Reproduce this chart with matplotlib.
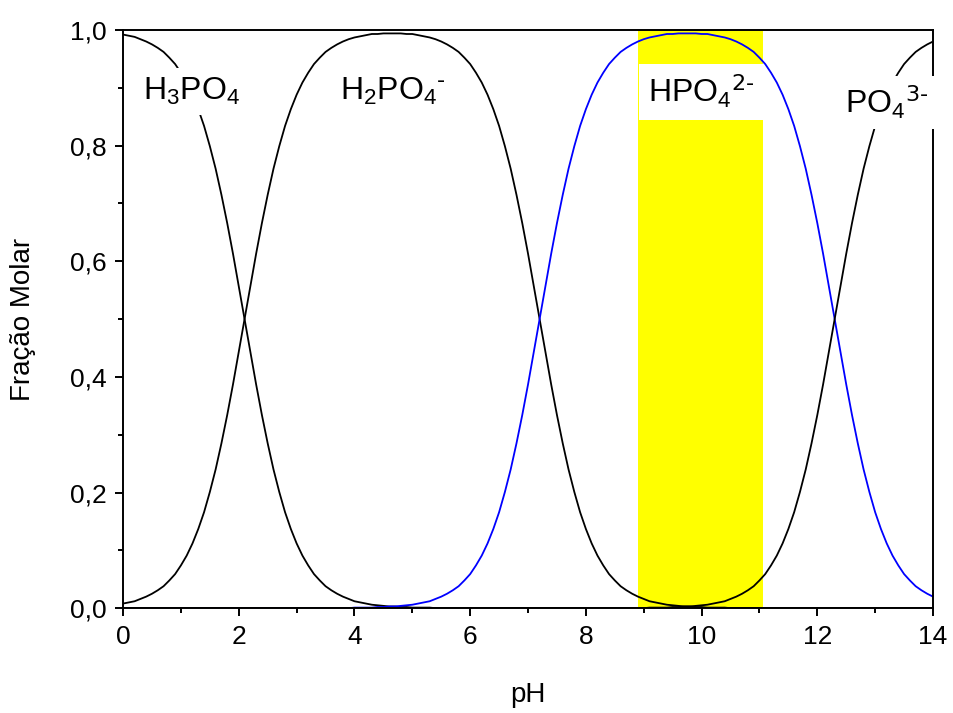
import numpy as np
import matplotlib
matplotlib.use("Agg")
import matplotlib.pyplot as plt

plt.rcParams['font.family'] = ['Liberation Sans', 'DejaVu Sans']
plt.rcParams['mathtext.default'] = 'regular'

# pH sampling grid (step 0.1, 141 points)
ph = np.round(np.arange(0, 14.05, 0.1), 1)
N = len(ph)

# Molar fraction of each phosphate species along the grid
h3po4 = [0.992, 0.990, 0.988, 0.984, 0.980, 0.975, 0.969, 0.962, 0.952, 0.941,
         0.926, 0.909, 0.888, 0.863, 0.834, 0.799, 0.760, 0.715, 0.666, 0.613,
         0.557, 0.500, 0.443, 0.387, 0.334, 0.285, 0.240, 0.201, 0.166, 0.137,
         0.112, 0.091, 0.074, 0.059, 0.048, 0.038, 0.031, 0.025, 0.020, 0.016,
         0.012, 0.010, 0.008, 0.006, 0.005, 0.004, 0.003, 0.003, 0.002, 0.002,
         0.001, 0.001, 0.001, 0.001]
h2po4 = [0.008, 0.010, 0.012, 0.016, 0.020, 0.025, 0.031, 0.038, 0.048, 0.059,
         0.074, 0.091, 0.112, 0.137, 0.166, 0.201, 0.240, 0.285, 0.334, 0.387,
         0.443, 0.500, 0.557, 0.613, 0.666, 0.715, 0.760, 0.799, 0.834, 0.863,
         0.888, 0.909, 0.926, 0.941, 0.952, 0.962, 0.969, 0.975, 0.980, 0.984,
         0.987, 0.989, 0.991, 0.993, 0.993, 0.994, 0.994, 0.994, 0.994, 0.993,
         0.993, 0.991, 0.989, 0.987, 0.984, 0.980, 0.975, 0.969, 0.962, 0.952,
         0.941, 0.926, 0.909, 0.888, 0.863, 0.834, 0.799, 0.760, 0.715, 0.666,
         0.613, 0.557, 0.500, 0.443, 0.387, 0.334, 0.285, 0.240, 0.201, 0.166,
         0.137, 0.112, 0.091, 0.074, 0.059, 0.048, 0.038, 0.031, 0.025, 0.020,
         0.016, 0.012, 0.010, 0.008, 0.006, 0.005, 0.004, 0.003, 0.003, 0.002,
         0.002, 0.001, 0.001, 0.001, 0.001]
hpo4 = [0.001, 0.001, 0.001, 0.001, 0.002, 0.002, 0.003, 0.003, 0.004, 0.005,
        0.006, 0.008, 0.010, 0.012, 0.016, 0.020, 0.025, 0.031, 0.038, 0.048,
        0.059, 0.074, 0.091, 0.112, 0.137, 0.166, 0.201, 0.240, 0.285, 0.334,
        0.387, 0.443, 0.500, 0.557, 0.613, 0.666, 0.715, 0.760, 0.799, 0.834,
        0.863, 0.888, 0.909, 0.926, 0.941, 0.952, 0.962, 0.969, 0.975, 0.980,
        0.984, 0.987, 0.989, 0.991, 0.993, 0.993, 0.994, 0.994, 0.994, 0.994,
        0.993, 0.993, 0.991, 0.989, 0.987, 0.984, 0.980, 0.975, 0.969, 0.962,
        0.952, 0.941, 0.926, 0.909, 0.888, 0.863, 0.834, 0.799, 0.760, 0.715,
        0.666, 0.613, 0.557, 0.500, 0.443, 0.387, 0.334, 0.285, 0.240, 0.201,
        0.166, 0.137, 0.112, 0.091, 0.074, 0.059, 0.048, 0.038, 0.031, 0.025,
        0.020]
po4 = [0.001, 0.001, 0.001, 0.001, 0.002, 0.002, 0.003, 0.003, 0.004, 0.005,
       0.006, 0.008, 0.010, 0.012, 0.016, 0.020, 0.025, 0.031, 0.038, 0.048,
       0.059, 0.074, 0.091, 0.112, 0.137, 0.166, 0.201, 0.240, 0.285, 0.334,
       0.387, 0.443, 0.500, 0.557, 0.613, 0.666, 0.715, 0.760, 0.799, 0.834,
       0.863, 0.888, 0.909, 0.926, 0.941, 0.952, 0.962, 0.969, 0.975, 0.980]

# species absent outside their listed range (zero-padded)
h3po4 = h3po4 + [0.0] * (N - len(h3po4))
h2po4 = h2po4 + [0.0] * (N - len(h2po4))
hpo4 = [0.0] * (N - len(hpo4)) + hpo4
po4 = [0.0] * (N - len(po4)) + po4

# Buffer region highlighted around the HPO4(2-) maximum
band = (8.9, 11.06)

fig = plt.figure(figsize=(9.54, 7.13), dpi=100)
ax = fig.add_axes([0.129, 0.147, 0.849, 0.811])

ax.axvspan(band[0], band[1], color='#ffff00', lw=0, zorder=1)
ax.plot(ph, h3po4, color='black', lw=1.3, zorder=2)
ax.plot(ph, h2po4, color='black', lw=1.3, zorder=2)
ax.plot(ph, hpo4, color='#0000ff', lw=1.3, zorder=2)
ax.plot(ph, po4, color='black', lw=1.3, zorder=2)

box = dict(boxstyle='square,pad=0.25', fc='white', ec='none')
ax.text(1.19, 0.893, r'H$_3$PO$_4$', fontsize=23, ha='center', va='center', bbox=box, zorder=3)
ax.text(4.67, 0.893, r'H$_2$PO$_4{}^{\text{-}}$', fontsize=23, ha='center', va='center', bbox=box, zorder=3)
ax.text(10.0, 0.893, r'HPO$_4{}^{\text{2-}}$', fontsize=23, ha='center', va='center',
        bbox=dict(boxstyle='square,pad=0.3', fc='white', ec='none'), zorder=3)
ax.text(13.2, 0.875, r'PO$_4{}^{\text{3-}}$', fontsize=23, ha='center', va='center', bbox=box, zorder=3)

ax.set_xlim(0, 14)
ax.set_ylim(0, 1.0)
ax.set_xticks(np.arange(0, 15, 2))
ax.set_xticks(np.arange(1, 15, 2), minor=True)
ax.set_yticks(np.arange(0, 1.01, 0.2))
ax.set_yticks(np.arange(0.1, 1.0, 0.2), minor=True)
ax.set_yticklabels([f"{v:.1f}".replace('.', ',') for v in np.arange(0, 1.01, 0.2)])

ax.tick_params(axis='both', which='major', direction='out', length=6, width=1.4,
               labelsize=19, pad=6)
ax.tick_params(axis='both', which='minor', direction='out', length=3.5, width=1.4)
for s in ax.spines.values():
    s.set_linewidth(1.4)

ax.set_xlabel("pH", fontsize=20)
ax.set_ylabel("Fração Molar", fontsize=20)
ax.xaxis.set_label_coords(0.5, -0.128)
ax.yaxis.set_label_coords(-0.108, 0.5)

fig.savefig("out.png", dpi=100)
plt.close()
